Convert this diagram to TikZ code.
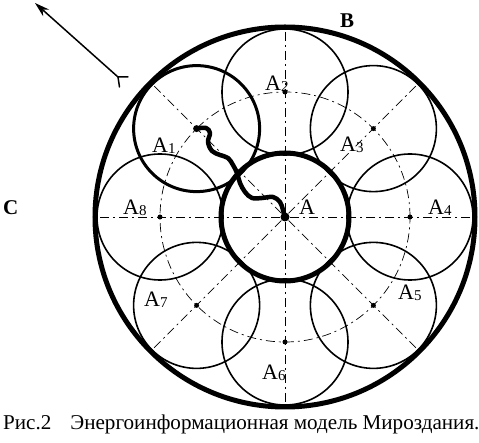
\documentclass[tikz,border=0pt]{standalone}
\usepackage{fontspec}
\setmainfont{Liberation Serif}
\usetikzlibrary{arrows.meta,positioning}
\newcommand\lidx[1]{\raisebox{-1pt}{\fontsize{15}{15}\selectfont #1}}

\begin{document}
\begin{tikzpicture}[
    x=1pt, y=1pt,
    world/.style={circle, draw, line width=5pt, minimum size=380pt, inner sep=0pt},
    core/.style={circle, draw, line width=5pt, minimum size=128pt, inner sep=0pt},
    cell/.style={circle, draw, line width=1.6pt, minimum size=126pt, inner sep=0pt},
    axisline/.style={line width=0.7pt, dash pattern=on 9pt off 4pt on 2pt off 4pt},
    dot/.style={circle, fill, inner sep=0pt, minimum size=5pt},
    lbl/.style={font=\fontsize{22}{22}\selectfont, inner sep=0pt, anchor=base west},
    heavy/.style={font=\fontsize{21}{21}\selectfont\bfseries},
    wave/.style={line width=4.5pt, line cap=round, line join=round},
    ray/.style={line width=1.5pt, -{Stealth[length=15pt,width=9pt]}},
    fork/.style={line width=1.5pt, line cap=round}
  ]
  \useasboundingbox (-285,-226) rectangle (194,217);

  \foreach \ang in {0,45,90,135}
    \draw[axisline] (\ang:185) -- (\ang+180:185);
  \draw[axisline] (0,0) circle (125);

  \node[world] (W) at (0,0) {};
  \node[core] (A) at (0,0) {};
  \foreach \k in {1,...,8}
    \node[cell] (A\k) at (180-45*\k:125) {};
  \node[cell, line width=3pt] at (A1) {};

  \foreach \k in {2,...,8}
    \node[dot] (d\k) at (A\k) {};
  \node[dot, minimum size=7pt] (d1) at (A1) {};
  \node[dot, minimum size=9pt] (d0) at (A) {};

  \draw[wave] plot[smooth, tension=0.6] coordinates {(A1.center) (-79,89) (-75,84) (-77,75)
    (-73,66) (-65,62) (-57,59) (-52,52) (-48,44) (-45,34) (-40,25) (-33,19) (-23,19)
    (-12,20) (-5,15) (-2,7) (A.center)};

  \node[lbl] (lA) at (14,2) {A};
  \node[lbl] (lA1) at (-133,64) {A\lidx{1}};
  \node[lbl] (lA2) at (-20,126) {A\lidx{2}};
  \node[lbl] (lA3) at (55,65) {A\lidx{3}};
  \node[lbl] (lA4) at (143,2) {A\lidx{4}};
  \node[lbl] (lA5) at (113,-83) {A\lidx{5}};
  \node[lbl] (lA6) at (-23,-163) {A\lidx{6}};
  \node[lbl] (lA7) at (-141,-90) {A\lidx{7}};
  \node[lbl] (lA8) at (-162,2) {A\lidx{8}};
  \node[lbl, heavy] (lB) at (55,189) {B};
  \node[lbl, heavy] (lC) at (-282,2) {C};

  \coordinate (tail) at (-167,140);
  \coordinate (head) at (-250,214);
  \coordinate (forkL) at (-157,140);
  \coordinate (forkR) at (-165.5,130);
  \draw[ray] (tail) -- (head);
  \draw[fork] (forkL) -- (tail) -- (forkR);

  \node[lbl, font=\fontsize{21.1}{22}\selectfont] (cap) at (-282,-213)
    {Рис.2\hspace{19pt}Энергоинформационная модель Мироздания.};
\end{tikzpicture}
\end{document}
